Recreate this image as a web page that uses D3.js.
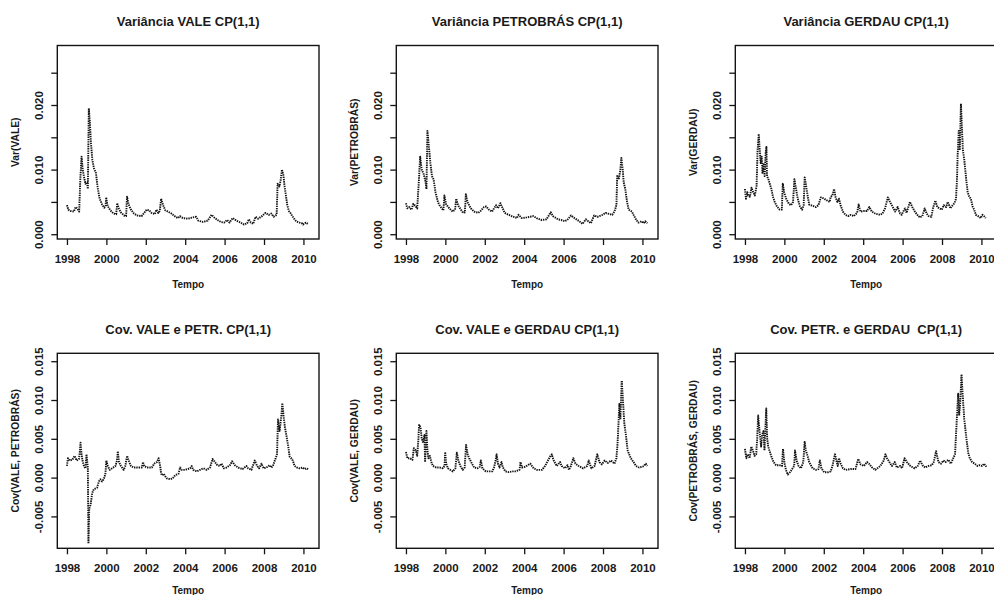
<!DOCTYPE html>
<html><head><meta charset="utf-8">
<script src="https://cdn.jsdelivr.net/npm/d3@7"></script>
<style>
body{margin:0;background:#fff;}
svg{display:block;}
text{font-family:"Liberation Sans",Arial,sans-serif;font-weight:bold;fill:#1a1a1a;}
</style></head><body>
<svg id="c" width="994" height="595"></svg>
<script>
// ---------------- DATA ----------------
const xTicks = [1998, 2000, 2002, 2004, 2006, 2008, 2010];
const yTicksVar = [0, 0.005, 0.010, 0.015, 0.020, 0.025];
const yLabelsVar = ["0.000", "", "0.010", "", "0.020", ""];
const yTicksCov = [-0.005, 0, 0.005, 0.010, 0.015];
const yLabelsCov = ["-0.005", "0.000", "0.005", "0.010", "0.015"];
const titles = ["Variância VALE CP(1,1)", "Variância PETROBRÁS CP(1,1)", "Variância GERDAU CP(1,1)",
  "Cov. VALE e PETR. CP(1,1)", "Cov. VALE e GERDAU CP(1,1)", "Cov. PETR. e GERDAU  CP(1,1)"];
const yTitles = ["Var(VALE)", "Var(PETROBRÁS)", "Var(GERDAU)",
  "Cov(VALE, PETROBRÁS)", "Cov(VALE, GERDAU)", "Cov(PETROBRÁS, GERDAU)"];
const xTitle = "Tempo";

const varVale = [[1998.00,0.0045],[1998.07,0.0038],[1998.18,0.0036],[1998.35,0.0035],[1998.44,0.0042],[1998.52,0.0040],[1998.62,0.0035],[1998.67,0.0080],[1998.74,0.0120],[1998.80,0.0100],[1998.87,0.0088],[1998.94,0.0078],[1999.02,0.0080],[1999.06,0.0070],[1999.11,0.0195],[1999.16,0.0175],[1999.22,0.0140],[1999.29,0.0115],[1999.37,0.0102],[1999.47,0.0095],[1999.56,0.0072],[1999.66,0.0055],[1999.78,0.0046],[1999.89,0.0041],[1999.96,0.0043],[1999.99,0.0057],[2000.06,0.0044],[2000.20,0.0037],[2000.36,0.0032],[2000.50,0.0031],[2000.55,0.0048],[2000.63,0.0040],[2000.73,0.0034],[2000.90,0.0029],[2001.00,0.0028],[2001.05,0.0058],[2001.13,0.0046],[2001.25,0.0038],[2001.40,0.0032],[2001.57,0.0029],[2001.79,0.0028],[2001.92,0.0033],[2002.04,0.0038],[2002.17,0.0037],[2002.29,0.0033],[2002.46,0.0031],[2002.54,0.0038],[2002.64,0.0033],[2002.71,0.0036],[2002.78,0.0055],[2002.88,0.0045],[2002.99,0.0037],[2003.13,0.0035],[2003.30,0.0032],[2003.51,0.0027],[2003.63,0.0025],[2003.73,0.0028],[2003.88,0.0025],[2004.13,0.0024],[2004.39,0.0026],[2004.55,0.0027],[2004.67,0.0021],[2004.89,0.0019],[2005.14,0.0021],[2005.34,0.0030],[2005.47,0.0026],[2005.64,0.0022],[2005.81,0.0019],[2005.98,0.0018],[2006.13,0.0022],[2006.25,0.0018],[2006.41,0.0025],[2006.60,0.0021],[2006.82,0.0018],[2006.98,0.0015],[2007.15,0.0017],[2007.23,0.0023],[2007.33,0.0018],[2007.45,0.0016],[2007.57,0.0027],[2007.70,0.0024],[2007.90,0.0028],[2008.07,0.0033],[2008.24,0.0030],[2008.37,0.0032],[2008.49,0.0027],[2008.64,0.0030],[2008.69,0.0078],[2008.78,0.0074],[2008.84,0.0083],[2008.91,0.0100],[2008.98,0.0092],[2009.04,0.0075],[2009.11,0.0060],[2009.18,0.0045],[2009.26,0.0036],[2009.36,0.0032],[2009.50,0.0025],[2009.63,0.0020],[2009.80,0.0018],[2009.92,0.0017],[2009.98,0.0015],[2010.05,0.0017],[2010.13,0.0018],[2010.22,0.0016]];

const varPetr = [[1998.00,0.0048],[1998.07,0.0040],[1998.17,0.0042],[1998.28,0.0038],[1998.37,0.0047],[1998.47,0.0044],[1998.57,0.0040],[1998.65,0.0080],[1998.72,0.0120],[1998.80,0.0100],[1998.90,0.0093],[1999.00,0.0080],[1999.04,0.0070],[1999.09,0.0160],[1999.15,0.0140],[1999.24,0.0110],[1999.32,0.0090],[1999.40,0.0085],[1999.50,0.0065],[1999.62,0.0050],[1999.70,0.0045],[1999.82,0.0040],[1999.90,0.0037],[1999.95,0.0060],[2000.04,0.0046],[2000.20,0.0040],[2000.37,0.0035],[2000.49,0.0038],[2000.55,0.0055],[2000.64,0.0045],[2000.79,0.0038],[2000.90,0.0033],[2000.99,0.0034],[2001.04,0.0062],[2001.12,0.0050],[2001.29,0.0040],[2001.46,0.0035],[2001.67,0.0033],[2001.79,0.0036],[2001.96,0.0042],[2002.07,0.0043],[2002.21,0.0038],[2002.37,0.0035],[2002.47,0.0040],[2002.57,0.0045],[2002.67,0.0040],[2002.79,0.0048],[2002.91,0.0040],[2003.01,0.0033],[2003.21,0.0030],[2003.46,0.0027],[2003.63,0.0025],[2003.71,0.0030],[2003.88,0.0025],[2004.13,0.0026],[2004.46,0.0028],[2004.63,0.0025],[2004.88,0.0022],[2005.13,0.0023],[2005.35,0.0034],[2005.46,0.0028],[2005.71,0.0023],[2005.88,0.0022],[2006.05,0.0020],[2006.18,0.0022],[2006.38,0.0029],[2006.55,0.0025],[2006.80,0.0020],[2006.96,0.0016],[2007.13,0.0023],[2007.38,0.0017],[2007.55,0.0029],[2007.72,0.0027],[2007.97,0.0030],[2008.13,0.0033],[2008.25,0.0032],[2008.47,0.0030],[2008.58,0.0035],[2008.68,0.0045],[2008.72,0.0090],[2008.80,0.0085],[2008.88,0.0100],[2008.93,0.0118],[2009.00,0.0100],[2009.05,0.0080],[2009.13,0.0070],[2009.22,0.0050],[2009.30,0.0038],[2009.47,0.0035],[2009.55,0.0030],[2009.69,0.0022],[2009.80,0.0018],[2009.97,0.0020],[2010.05,0.0017],[2010.14,0.0020],[2010.25,0.0017]];

const varGerd = [[1998.00,0.0070],[1998.05,0.0055],[1998.12,0.0065],[1998.17,0.0060],[1998.25,0.0058],[1998.33,0.0072],[1998.42,0.0065],[1998.50,0.0060],[1998.59,0.0075],[1998.64,0.0130],[1998.70,0.0155],[1998.75,0.0130],[1998.80,0.0110],[1998.85,0.0120],[1998.89,0.0095],[1998.95,0.0110],[1999.00,0.0090],[1999.05,0.0125],[1999.09,0.0135],[1999.12,0.0090],[1999.19,0.0085],[1999.26,0.0078],[1999.34,0.0070],[1999.42,0.0058],[1999.51,0.0050],[1999.62,0.0043],[1999.76,0.0038],[1999.87,0.0038],[1999.92,0.0078],[1999.99,0.0065],[2000.09,0.0055],[2000.23,0.0047],[2000.34,0.0045],[2000.44,0.0050],[2000.51,0.0085],[2000.59,0.0070],[2000.68,0.0055],[2000.79,0.0043],[2000.90,0.0038],[2000.98,0.0045],[2001.03,0.0088],[2001.10,0.0075],[2001.18,0.0060],[2001.26,0.0046],[2001.43,0.0044],[2001.60,0.0042],[2001.73,0.0045],[2001.85,0.0057],[2002.02,0.0055],[2002.18,0.0052],[2002.30,0.0050],[2002.35,0.0058],[2002.44,0.0060],[2002.52,0.0070],[2002.60,0.0057],[2002.69,0.0050],[2002.77,0.0055],[2002.85,0.0045],[2002.97,0.0035],[2003.10,0.0030],[2003.24,0.0028],[2003.36,0.0030],[2003.52,0.0028],[2003.69,0.0033],[2003.77,0.0046],[2003.86,0.0035],[2004.03,0.0036],[2004.19,0.0036],[2004.31,0.0042],[2004.44,0.0035],[2004.61,0.0032],[2004.86,0.0030],[2004.98,0.0032],[2005.11,0.0040],[2005.25,0.0057],[2005.36,0.0050],[2005.45,0.0045],[2005.62,0.0035],[2005.75,0.0042],[2005.87,0.0032],[2005.95,0.0030],[2006.03,0.0035],[2006.12,0.0040],[2006.20,0.0033],[2006.37,0.0050],[2006.49,0.0042],[2006.62,0.0035],[2006.75,0.0030],[2006.87,0.0026],[2007.00,0.0028],[2007.12,0.0040],[2007.22,0.0032],[2007.32,0.0028],[2007.46,0.0027],[2007.54,0.0040],[2007.66,0.0052],[2007.76,0.0042],[2007.87,0.0040],[2007.99,0.0038],[2008.09,0.0045],[2008.21,0.0042],[2008.29,0.0050],[2008.43,0.0040],[2008.54,0.0045],[2008.63,0.0048],[2008.71,0.0055],[2008.76,0.0085],[2008.79,0.0120],[2008.85,0.0160],[2008.90,0.0130],[2008.93,0.0165],[2008.96,0.0202],[2009.01,0.0165],[2009.06,0.0130],[2009.13,0.0115],[2009.21,0.0090],[2009.30,0.0065],[2009.38,0.0058],[2009.46,0.0055],[2009.55,0.0043],[2009.63,0.0038],[2009.72,0.0030],[2009.83,0.0028],[2009.97,0.0025],[2010.05,0.0030],[2010.13,0.0028],[2010.22,0.0025]];

const covValePetr = [[1998.00,0.0015],[1998.05,0.0025],[1998.15,0.0022],[1998.27,0.0023],[1998.39,0.0028],[1998.49,0.0022],[1998.61,0.0024],[1998.66,0.0035],[1998.69,0.0045],[1998.74,0.0030],[1998.79,0.0022],[1998.86,0.0015],[1998.94,0.0012],[1998.99,0.0030],[1999.03,0.0020],[1999.06,0.0013],[1999.08,-0.0050],[1999.09,-0.0085],[1999.13,-0.0040],[1999.20,-0.0035],[1999.28,-0.0020],[1999.36,-0.0015],[1999.53,-0.0013],[1999.62,-0.0005],[1999.70,-0.0002],[1999.78,-0.0005],[1999.87,-0.0002],[1999.95,0.0005],[2000.00,0.0022],[2000.07,0.0015],[2000.17,0.0010],[2000.29,0.0012],[2000.46,0.0015],[2000.54,0.0022],[2000.58,0.0034],[2000.64,0.0020],[2000.74,0.0015],[2000.88,0.0010],[2000.96,0.0015],[2001.05,0.0028],[2001.13,0.0022],[2001.25,0.0015],[2001.38,0.0013],[2001.64,0.0013],[2001.80,0.0013],[2001.86,0.0020],[2001.92,0.0015],[2002.06,0.0013],[2002.31,0.0013],[2002.43,0.0018],[2002.56,0.0020],[2002.65,0.0025],[2002.73,0.0015],[2002.78,0.0005],[2002.83,0.0003],[2002.90,0.0005],[2002.98,0.0002],[2003.07,-0.0001],[2003.24,-0.0002],[2003.37,-0.0001],[2003.49,0.0003],[2003.66,0.0005],[2003.74,0.0013],[2003.82,0.0010],[2003.99,0.0010],[2004.25,0.0012],[2004.33,0.0015],[2004.41,0.0010],[2004.58,0.0008],[2004.75,0.0010],[2004.92,0.0012],[2005.09,0.0010],[2005.26,0.0013],[2005.39,0.0024],[2005.51,0.0020],[2005.63,0.0016],[2005.76,0.0015],[2005.85,0.0018],[2005.96,0.0012],[2006.10,0.0013],[2006.27,0.0016],[2006.38,0.0021],[2006.52,0.0016],[2006.69,0.0013],[2006.91,0.0011],[2007.11,0.0015],[2007.19,0.0012],[2007.36,0.0010],[2007.53,0.0022],[2007.65,0.0015],[2007.75,0.0012],[2007.87,0.0018],[2007.98,0.0012],[2008.12,0.0013],[2008.29,0.0016],[2008.37,0.0013],[2008.45,0.0015],[2008.59,0.0025],[2008.66,0.0030],[2008.71,0.0075],[2008.79,0.0060],[2008.88,0.0080],[2008.93,0.0096],[2008.99,0.0080],[2009.06,0.0065],[2009.13,0.0055],[2009.23,0.0040],[2009.30,0.0027],[2009.38,0.0025],[2009.46,0.0022],[2009.55,0.0015],[2009.67,0.0013],[2009.80,0.0012],[2009.97,0.0013],[2010.05,0.0011],[2010.17,0.0012],[2010.27,0.0010]];

const covValeGerd = [[1998.00,0.0033],[1998.07,0.0025],[1998.20,0.0025],[1998.33,0.0023],[1998.40,0.0038],[1998.50,0.0035],[1998.57,0.0028],[1998.62,0.0045],[1998.67,0.0068],[1998.74,0.0065],[1998.80,0.0050],[1998.87,0.0045],[1998.94,0.0055],[1998.97,0.0020],[1999.04,0.0060],[1999.09,0.0035],[1999.14,0.0025],[1999.21,0.0028],[1999.29,0.0020],[1999.37,0.0015],[1999.54,0.0013],[1999.71,0.0013],[1999.87,0.0012],[1999.96,0.0015],[1999.99,0.0033],[2000.04,0.0018],[2000.13,0.0012],[2000.24,0.0010],[2000.38,0.0008],[2000.51,0.0012],[2000.58,0.0032],[2000.66,0.0022],[2000.76,0.0015],[2000.88,0.0010],[2000.98,0.0013],[2001.05,0.0042],[2001.13,0.0030],[2001.21,0.0025],[2001.35,0.0018],[2001.46,0.0013],[2001.63,0.0012],[2001.75,0.0014],[2001.80,0.0022],[2001.88,0.0012],[2002.05,0.0008],[2002.30,0.0008],[2002.38,0.0008],[2002.47,0.0013],[2002.55,0.0022],[2002.60,0.0030],[2002.67,0.0018],[2002.75,0.0013],[2002.85,0.0020],[2002.92,0.0013],[2003.05,0.0008],[2003.22,0.0007],[2003.39,0.0008],[2003.56,0.0008],[2003.76,0.0010],[2003.81,0.0020],[2003.89,0.0013],[2004.06,0.0014],[2004.31,0.0018],[2004.48,0.0012],[2004.64,0.0010],[2004.90,0.0010],[2005.06,0.0015],[2005.31,0.0027],[2005.40,0.0030],[2005.48,0.0023],[2005.65,0.0015],[2005.82,0.0020],[2005.90,0.0015],[2006.07,0.0012],[2006.20,0.0016],[2006.27,0.0010],[2006.37,0.0015],[2006.49,0.0025],[2006.60,0.0018],[2006.77,0.0015],[2006.99,0.0012],[2007.20,0.0015],[2007.27,0.0022],[2007.41,0.0012],[2007.57,0.0015],[2007.71,0.0030],[2007.82,0.0020],[2007.94,0.0017],[2008.08,0.0022],[2008.24,0.0019],[2008.41,0.0022],[2008.58,0.0018],[2008.68,0.0025],[2008.74,0.0045],[2008.83,0.0095],[2008.88,0.0075],[2008.95,0.0125],[2009.01,0.0100],[2009.08,0.0070],[2009.16,0.0055],[2009.25,0.0035],[2009.33,0.0030],[2009.41,0.0025],[2009.55,0.0020],[2009.67,0.0015],[2009.83,0.0013],[2010.00,0.0014],[2010.08,0.0015],[2010.17,0.0018],[2010.25,0.0015]];

const covPetrGerd = [[1998.00,0.0037],[1998.07,0.0025],[1998.15,0.0030],[1998.24,0.0025],[1998.32,0.0040],[1998.40,0.0035],[1998.49,0.0028],[1998.57,0.0030],[1998.62,0.0050],[1998.67,0.0080],[1998.74,0.0060],[1998.82,0.0040],[1998.87,0.0055],[1998.94,0.0060],[1998.99,0.0035],[1999.04,0.0065],[1999.08,0.0089],[1999.13,0.0050],[1999.18,0.0040],[1999.24,0.0035],[1999.33,0.0028],[1999.45,0.0020],[1999.58,0.0016],[1999.75,0.0016],[1999.88,0.0015],[1999.93,0.0037],[2000.00,0.0020],[2000.08,0.0010],[2000.17,0.0004],[2000.29,0.0007],[2000.42,0.0012],[2000.50,0.0015],[2000.54,0.0035],[2000.62,0.0022],[2000.72,0.0015],[2000.84,0.0012],[2000.96,0.0020],[2001.03,0.0046],[2001.09,0.0035],[2001.18,0.0028],[2001.26,0.0020],[2001.43,0.0012],[2001.60,0.0010],[2001.73,0.0011],[2001.80,0.0022],[2001.88,0.0012],[2002.02,0.0007],[2002.24,0.0007],[2002.35,0.0008],[2002.44,0.0015],[2002.52,0.0025],[2002.57,0.0030],[2002.64,0.0022],[2002.71,0.0015],[2002.77,0.0025],[2002.86,0.0018],[2002.97,0.0012],[2003.11,0.0010],[2003.36,0.0011],[2003.61,0.0011],[2003.75,0.0024],[2003.87,0.0017],[2004.03,0.0015],[2004.20,0.0020],[2004.29,0.0018],[2004.45,0.0013],[2004.62,0.0010],[2004.87,0.0015],[2005.04,0.0022],[2005.13,0.0030],[2005.21,0.0025],[2005.38,0.0018],[2005.46,0.0015],[2005.60,0.0020],[2005.71,0.0013],[2005.88,0.0015],[2005.97,0.0012],[2006.10,0.0025],[2006.22,0.0020],[2006.39,0.0015],[2006.61,0.0012],[2006.77,0.0015],[2006.89,0.0022],[2007.01,0.0016],[2007.14,0.0013],[2007.31,0.0015],[2007.48,0.0016],[2007.58,0.0020],[2007.70,0.0034],[2007.82,0.0020],[2007.95,0.0018],[2008.07,0.0022],[2008.18,0.0020],[2008.32,0.0023],[2008.45,0.0018],[2008.57,0.0025],[2008.66,0.0030],[2008.74,0.0070],[2008.82,0.0108],[2008.87,0.0080],[2008.92,0.0095],[2008.99,0.0133],[2009.04,0.0110],[2009.09,0.0090],[2009.13,0.0075],[2009.24,0.0050],[2009.33,0.0032],[2009.41,0.0025],[2009.53,0.0020],[2009.66,0.0018],[2009.80,0.0015],[2009.91,0.0016],[2010.03,0.0015],[2010.13,0.0018],[2010.25,0.0014]];

const series = [varVale, varPetr, varGerd, covValePetr, covValeGerd, covPetrGerd];

// ---------------- LAYOUT ----------------
const svg = d3.select("#c");
const boxW = 261.7;
const colX = [57.3, 396.3, 735.3];
const rows = [
  {top: 45.5, bottom: 239.0, domain: [-0.00074, 0.02921], ticks: yTicksVar, labels: yLabelsVar, xt: 48.5},
  {top: 353.3, bottom: 548.3, domain: [-0.00911, 0.01602], ticks: yTicksCov, labels: yLabelsCov, xt: 45.5}
];
const ink = "#141414";

series.forEach((data, i) => {
  const r = rows[Math.floor(i / 3)];
  const left = colX[i % 3];
  const x = d3.scaleLinear().domain([1997.51, 2010.79]).range([left, left + boxW]);
  const y = d3.scaleLinear().domain(r.domain).range([r.bottom, r.top]);
  const g = svg.append("g");

  // series line (dotted, R-style)
  const line = d3.line().x(d => x(d[0])).y(d => y(d[1]));
  g.append("path").datum(data).attr("d", line)
    .attr("fill", "none").attr("stroke", ink).attr("stroke-width", 1.9)
    .attr("stroke-dasharray", "1.4,0.9").attr("stroke-linejoin", "round");

  // x axis
  const xa = g.append("g").attr("transform", `translate(0,${r.bottom})`)
    .call(d3.axisBottom(x).tickValues(xTicks).tickSize(6).tickFormat(d3.format("d")));
  xa.select(".domain").remove();
  xa.selectAll("line").attr("stroke", ink).attr("stroke-width", 1.3);
  xa.selectAll("text").attr("y", 24).attr("dy", 0)
    .style("font-size", "11.5px").style("font-family", "'Liberation Sans',Arial,sans-serif")
    .style("font-weight", "bold").attr("fill", ink);

  // y axis
  const ya = g.append("g").attr("transform", `translate(${left},0)`)
    .call(d3.axisLeft(y).tickValues(r.ticks).tickSize(6)
      .tickFormat((d, k) => r.labels[k]));
  ya.select(".domain").remove();
  ya.selectAll("line").attr("stroke", ink).attr("stroke-width", 1.3);
  ya.selectAll("text").attr("transform", "rotate(-90)").attr("x", 0).attr("y", -14).attr("dy", 0)
    .style("text-anchor", "middle")
    .style("font-size", "11.5px").style("font-family", "'Liberation Sans',Arial,sans-serif")
    .style("font-weight", "bold").attr("fill", ink);

  // box
  g.append("rect").attr("x", left).attr("y", r.top)
    .attr("width", boxW).attr("height", r.bottom - r.top)
    .attr("fill", "none").attr("stroke", ink).attr("stroke-width", 1.4);

  // titles
  g.append("text").attr("x", left + boxW / 2).attr("y", r.top - 19.5)
    .attr("text-anchor", "middle").style("font-size", "13px").style("white-space", "pre")
    .text(titles[i]);
  g.append("text").attr("x", left + boxW / 2).attr("y", r.bottom + r.xt)
    .attr("text-anchor", "middle").style("font-size", "10px").text(xTitle);
  const cy = (r.top + r.bottom) / 2;
  g.append("text").attr("transform", `translate(${left - 38.6},${cy}) rotate(-90)`)
    .attr("text-anchor", "middle").style("font-size", "10.3px").text(yTitles[i]);
});
</script>
</body></html>
